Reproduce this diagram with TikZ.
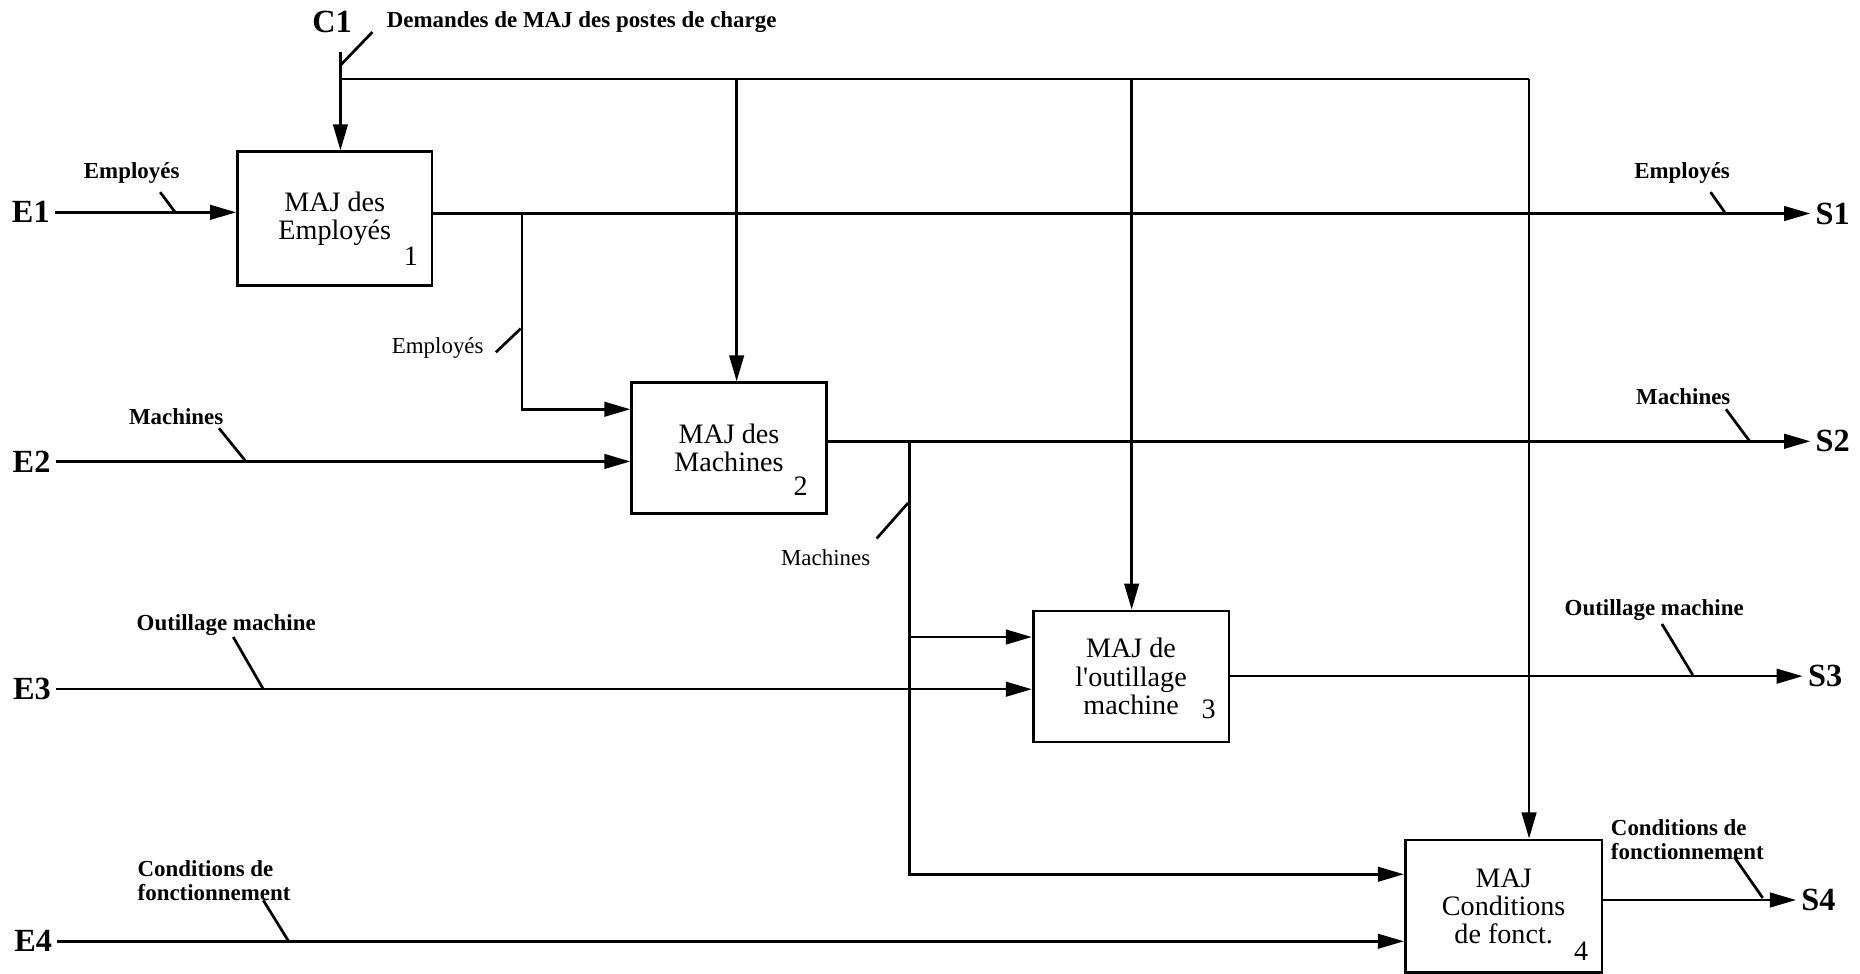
\documentclass[tikz,border=0pt]{standalone}
\usepackage{fontspec}
\setmainfont{Liberation Serif}
\usetikzlibrary{positioning, arrows.meta, calc}

\begin{document}
\begin{tikzpicture}[x=0.02cm, y=-0.02cm, line width=1.2pt,
  proc/.style={draw, line width=1.3pt, minimum width=3.3cm, minimum height=2.22cm,
    align=center, inner sep=0pt, font=\fontsize{13.5}{13.6}\selectfont},
  num/.style={inner sep=0pt, font=\fontsize{13.5}{13.5}\selectfont},
  port/.style={inner sep=2pt, font=\bfseries\fontsize{15.5}{16}\selectfont},
  lbl/.style={inner sep=0pt, align=left, font=\bfseries\fontsize{11}{11.4}\selectfont},
  lblr/.style={inner sep=0pt, font=\fontsize{11}{11.4}\selectfont},
  flow/.style={-{Triangle[length=12.5pt, width=7pt]}},
  tick/.style={line width=1.3pt}]
  \useasboundingbox (0,0) rectangle (1568,821);

  % boites
  \node[proc, minimum width=3.28cm, minimum height=2.26cm] (b1) at (282.2,184.4) {MAJ des\\Employés};
  \node[proc, minimum width=3.28cm, minimum height=2.2cm] (b2) at (614.5,377.6) {MAJ des\\Machines};
  \node[proc, minimum height=2.21cm] (b3) at (953.5,570.3) {MAJ de\\l\textquotesingle outillage\\machine};
  \node[proc, minimum width=3.32cm, minimum height=2.24cm] (b4) at (1267.6,764) {MAJ\\Conditions\\de fonct.};
  \foreach \k/\nx/\ny in {1/346.3/216.4, 2/675/410, 3/1019/598, 4/1333/802}
    \node[num] (n\k) at (\nx,\ny) {\k};

  % entrees, sorties, controle
  \node[port] (c1) at (280,18.5) {C1};
  \node[port] (e1) at (26,179) {E1};
  \node[port] (e2) at (26.6,389) {E2};
  \node[port] (e3) at (27,581) {E3};
  \node[port] (e4) at (28,793.5) {E4};
  \node[port] (s1) at (1545,180) {S1};
  \node[port] (s2) at (1545,372) {S2};
  \node[port] (s3) at (1538.6,570) {S3};
  \node[port] (s4) at (1533,758.7) {S4};

  \coordinate (c1top) at (287,43.5);
  \coordinate (cbar) at (287,66.6);
  \coordinate (cend) at (1289,66.6);
  \coordinate (j1) at (440,0 |- s1);
  \coordinate (j2) at (766.5,0 |- s2);
  \coordinate (b2emp) at ($(b2.west)+(0,-32.6)$);
  \coordinate (b3mach) at ($(b3.west)+(0,-33.3)$);
  \coordinate (b4mach) at ($(b4.west)+(0,-27)$);

  \draw[flow] (c1top) -- (c1top |- b1.north);
  \draw (cbar) -- (cend);
  \foreach \xc/\bx in {621/b2, 954/b3, 1289/b4}
    \draw[flow] (\xc,0 |- cbar) -- (\xc,0 |- \bx.north);

  \draw[flow] (e1) -- (e1 -| b1.west);
  \draw[flow] (b1.east |- s1) -- (s1);
  \draw[flow] (j1) |- (b2emp);
  \draw[flow] (e2) -- (e2 -| b2.west);
  \draw[flow] (b2.east |- s2) -- (s2);
  \draw[flow] (j2) |- (b3mach);
  \draw[flow] (j2) |- (b4mach);
  \draw[flow] (e3) -- (e3 -| b3.west);
  \draw[flow] (b3.east |- s3) -- (s3);
  \draw[flow] (e4) -- (e4 -| b4.west);
  \draw[flow] (b4.east |- s4) -- (s4);

  % etiquettes des fleches
  \node[lbl, anchor=west] (lc1) at (325,18.5) {Demandes de MAJ des postes de charge};
  \node[lbl] (le1) at (111,146) {Employés};
  \node[lbl] (ls1) at (1418,146) {Employés};
  \node[lblr] (lj1) at (369,293.5) {Employés};
  \node[lbl] (le2) at (148.5,351.5) {Machines};
  \node[lbl] (ls2) at (1419,334) {Machines};
  \node[lblr] (lj2) at (696,470.5) {Machines};
  \node[lbl] (le3) at (190.7,527) {Outillage machine};
  \node[lbl] (ls3) at (1394.5,514) {Outillage machine};
  \node[lbl, anchor=west] (le4) at (115,742.6) {Conditions de\\fonctionnement};
  \node[lbl, anchor=west] (ls4) at (1357,708) {Conditions de\\fonctionnement};

  \foreach \nm/\ax/\ay/\bx/\by in {
    tc1/314/27/287/55, te1/135/162/147.5/178.7, ts1/1442/162/1454/179,
    tj1/418/297/439/277, te2/184.6/361/206.5/388, ts2/1455/345/1475/372,
    tj2/739/454/765.5/424, te3/196.6/537/222/581, ts3/1401/526/1427/569,
    te4/222/759/243/793, ts4/1462/722.5/1486/757}
  { \coordinate (\nm-a) at (\ax,\ay);
    \coordinate (\nm-b) at (\bx,\by);
    \draw[tick] (\nm-a) -- (\nm-b); }
\end{tikzpicture}
\end{document}
